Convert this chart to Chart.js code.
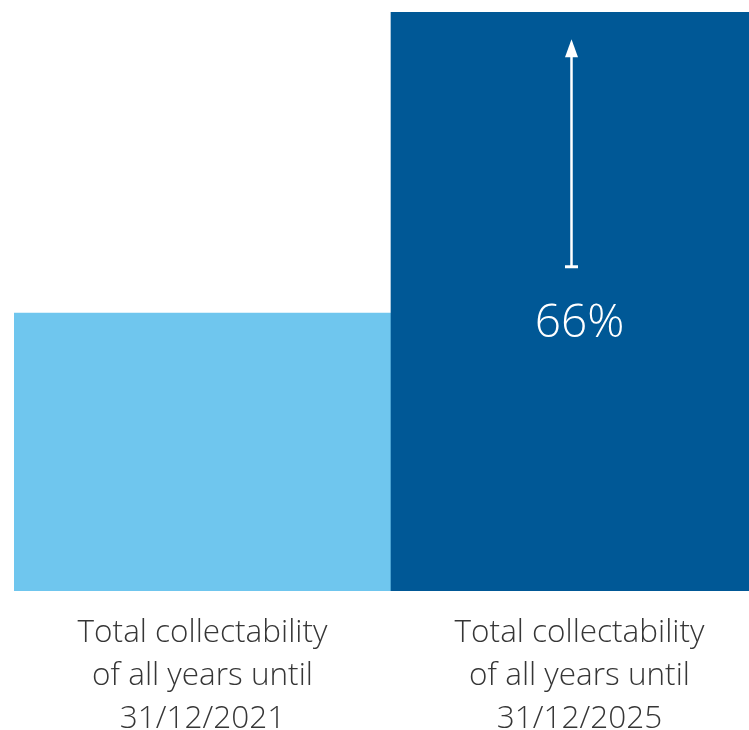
<!DOCTYPE html>
<html>
<head>
<meta charset="utf-8">
<script src="https://cdn.jsdelivr.net/npm/chart.js@4/dist/chart.umd.min.js"></script>
<style>
    html, body { margin: 0; padding: 0; background: #ffffff; overflow: hidden; }
    #wrap { position: relative; width: 770px; height: 730px; }
</style>
</head>
<body>
<div id="wrap"><canvas id="collectChart"></canvas></div>
<script>
// 数据
const categories = [
    ['Total collectability', 'of all years until', '31/12/2021'],
    ['Total collectability', 'of all years until', '31/12/2025']
];
const values = [48, 100];
const barColors = ['#6fc6ee', '#005896'];
const growthLabel = '66%';

// 箭头和百分比标注
const growthArrowPlugin = {
    id: 'growthArrow',
    afterDatasetsDraw(chart) {
        const ctx = chart.ctx;
        const bar = chart.getDatasetMeta(0).data[1];
        const y = chart.scales.y;
        const ax = bar.x - 8;
        const tipY = y.getPixelForValue(95.3);
        const baseY = y.getPixelForValue(56);

        ctx.save();
        ctx.strokeStyle = '#ffffff';
        ctx.fillStyle = '#ffffff';
        ctx.lineWidth = 2.5;
        ctx.beginPath();
        ctx.moveTo(ax, tipY + 16);
        ctx.lineTo(ax, baseY);
        ctx.stroke();
        // 底部横线
        ctx.lineWidth = 3;
        ctx.beginPath();
        ctx.moveTo(ax - 6.5, baseY);
        ctx.lineTo(ax + 6.5, baseY);
        ctx.stroke();
        // 箭头
        ctx.beginPath();
        ctx.moveTo(ax, tipY);
        ctx.lineTo(ax - 6.5, tipY + 18);
        ctx.lineTo(ax + 6.5, tipY + 18);
        ctx.closePath();
        ctx.fill();

        ctx.font = '300 46px "Open Sans"';
        ctx.textAlign = 'center';
        ctx.textBaseline = 'alphabetic';
        ctx.fillText(growthLabel, bar.x, baseY + 70);
        ctx.restore();
    }
};

const ctx = document.getElementById('collectChart').getContext('2d');
new Chart(ctx, {
    type: 'bar',
    data: {
        labels: categories,
        datasets: [{
            data: values,
            backgroundColor: barColors,
            borderWidth: 0,
            barPercentage: 1,
            categoryPercentage: 1
        }]
    },
    options: {
        responsive: true,
        maintainAspectRatio: false,
        animation: false,
        layout: {
            padding: { top: 12, left: 14, right: 2, bottom: 0 }
        },
        plugins: {
            legend: { display: false },
            tooltip: { enabled: false }
        },
        scales: {
            y: {
                display: false,
                min: 0,
                max: 100
            },
            x: {
                grid: { display: false },
                border: { display: false },
                ticks: {
                    color: '#363636',
                    padding: 13,
                    maxRotation: 0,
                    autoSkip: false,
                    font: {
                        family: '"Open Sans"',
                        weight: 300,
                        size: 31.5,
                        lineHeight: 1.36
                    }
                },
                afterFit(scale) {
                    scale.height = 139;
                }
            }
        }
    },
    plugins: [growthArrowPlugin]
});
</script>
</body>
</html>
